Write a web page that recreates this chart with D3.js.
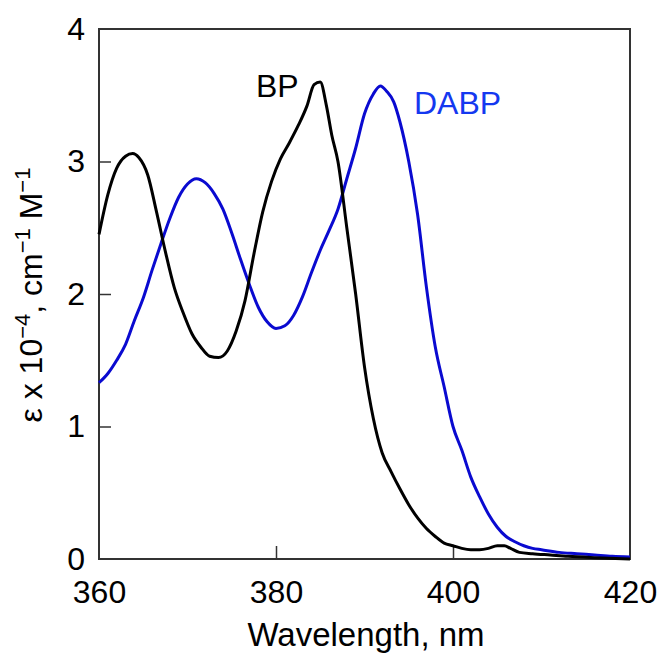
<!DOCTYPE html>
<html>
<head>
  <meta charset="UTF-8">
  <style>
    body {
      margin: 0;
      background: #fff;
      font-family: "Liberation Sans", Arial, Helvetica, sans-serif;
    }
    .tick text {
      font-size: 32px;
      fill: #000;
    }
    .tick line {
      stroke: #333;
      stroke-width: 1.5;
    }
  </style>
</head>
<body>
  <svg width="665" height="657"></svg>
  <script src="https://cdn.jsdelivr.net/npm/d3@7"></script>
  <script>
    // BP spectrum (black)
    let bpWavelength = [360, 361, 362, 363, 363.8, 364.5, 365.5, 366.5, 367.5, 368.5, 369.5, 370.5, 371.5, 372.5, 373.5,
      374.5, 375.5, 376.5, 377.5, 378.5, 379.5, 380.5, 381.5, 382.5, 383.5, 384.3, 385, 385.7, 386.3, 387, 388, 389,
      390, 391, 392, 393, 394, 395, 396, 397, 398, 399, 400, 401, 402, 403, 404, 405, 405.8, 406.5, 407.5, 409, 411,
      413, 416, 420];
    let bpEpsilon = [2.45, 2.75, 2.95, 3.04, 3.06, 3.03, 2.9, 2.62, 2.32, 2.05, 1.86, 1.7, 1.6, 1.53, 1.52,
      1.57, 1.72, 1.95, 2.3, 2.62, 2.85, 3.02, 3.14, 3.27, 3.42, 3.58, 3.6, 3.42, 3.2, 3.0, 2.5, 2.0,
      1.45, 1.06, 0.8, 0.66, 0.53, 0.41, 0.31, 0.23, 0.17, 0.12, 0.1, 0.08, 0.07, 0.07, 0.08, 0.1, 0.1, 0.08, 0.05, 0.04, 0.03,
      0.02, 0.01, 0.0];

    // DABP spectrum (blue)
    let dabpWavelength = [360, 361, 362, 363, 364, 365, 366, 367, 368, 369, 370, 371, 372, 373, 374, 375, 376, 377, 378,
      379, 380, 381, 382, 383, 384, 385, 386, 387, 388, 389, 390, 391, 391.8, 392.5, 393.3, 394, 395, 396, 397, 398,
      399, 400, 401, 402, 403, 404, 405, 406, 407, 408, 409, 410, 412, 414, 416, 418, 420];
    let dabpEpsilon = [1.33, 1.4, 1.5, 1.62, 1.8, 1.97, 2.18, 2.38, 2.57, 2.73, 2.83, 2.87, 2.84, 2.76, 2.64, 2.46, 2.26, 2.07, 1.9,
      1.79, 1.74, 1.76, 1.84, 1.98, 2.16, 2.33, 2.48, 2.64, 2.87, 3.1, 3.36, 3.51, 3.57, 3.53, 3.45, 3.3, 3.0, 2.6, 2.05, 1.6,
      1.3, 1.0, 0.82, 0.62, 0.47, 0.34, 0.24, 0.17, 0.13, 0.1, 0.08, 0.07, 0.05, 0.04, 0.03, 0.02, 0.015];

    let xTicks = [360, 380, 400, 420];
    let yTicks = [0, 1, 2, 3, 4];

    let margin = {left: 99, top: 29, right: 35, bottom: 98};
    let width = 665, height = 657;

    let svg = d3.select("svg");

    let x = d3.scaleLinear().domain([360, 420]).range([margin.left, width - margin.right]);
    let y = d3.scaleLinear().domain([0, 4]).range([height - margin.bottom, margin.top]);

    // axes with inward ticks
    let xAxis = svg.append("g")
        .attr("transform", `translate(0,${y(0)})`)
        .call(d3.axisBottom(x).tickValues(xTicks).tickSize(-13).tickPadding(21).tickFormat(d3.format("d")));
    xAxis.select(".domain").remove();
    xAxis.selectAll(".tick line").filter(d => d === 360 || d === 420).remove();

    let yAxis = svg.append("g")
        .attr("transform", `translate(${x(360)},0)`)
        .call(d3.axisLeft(y).tickValues(yTicks).tickSize(-12).tickPadding(14).tickFormat(d3.format("d")));
    yAxis.select(".domain").remove();
    yAxis.selectAll(".tick line").filter(d => d === 0 || d === 4).remove();

    svg.selectAll(".tick text").attr("font-family", null);

    // frame
    svg.append("rect")
        .attr("x", x(360))
        .attr("y", y(4))
        .attr("width", x(420) - x(360))
        .attr("height", y(0) - y(4))
        .attr("fill", "none")
        .attr("stroke", "#333")
        .attr("stroke-width", 2);

    let line = d3.line()
        .x(d => x(d[0]))
        .y(d => y(d[1]))
        .curve(d3.curveMonotoneX);

    svg.append("path")
        .datum(d3.zip(dabpWavelength, dabpEpsilon))
        .attr("d", line)
        .attr("fill", "none")
        .attr("stroke", "#0a0ad0")
        .attr("stroke-width", 3);

    svg.append("path")
        .datum(d3.zip(bpWavelength, bpEpsilon))
        .attr("d", line)
        .attr("fill", "none")
        .attr("stroke", "#000")
        .attr("stroke-width", 3);

    // labels
    svg.append("text")
        .attr("x", 256).attr("y", 97)
        .style("font-size", "32px")
        .attr("fill", "#000")
        .text("BP");

    svg.append("text")
        .attr("x", 414).attr("y", 114)
        .style("font-size", "32px")
        .attr("fill", "#1438f0")
        .text("DABP");

    svg.append("text")
        .attr("x", 366).attr("y", 646)
        .attr("text-anchor", "middle")
        .style("font-size", "33px")
        .text("Wavelength, nm");

    let yTitle = svg.append("text")
        .attr("transform", "translate(42,295) rotate(-90)")
        .attr("text-anchor", "middle")
        .style("font-size", "32px");
    yTitle.append("tspan").text("\u03b5 x 10");
    yTitle.append("tspan").attr("dy", -12).style("font-size", "22px").text("\u22124");
    yTitle.append("tspan").attr("dy", 12).text(", cm");
    yTitle.append("tspan").attr("dy", -12).style("font-size", "22px").text("\u22121");
    yTitle.append("tspan").attr("dy", 12).text(" M");
    yTitle.append("tspan").attr("dy", -12).style("font-size", "22px").text("\u22121");
  </script>
</body>
</html>
